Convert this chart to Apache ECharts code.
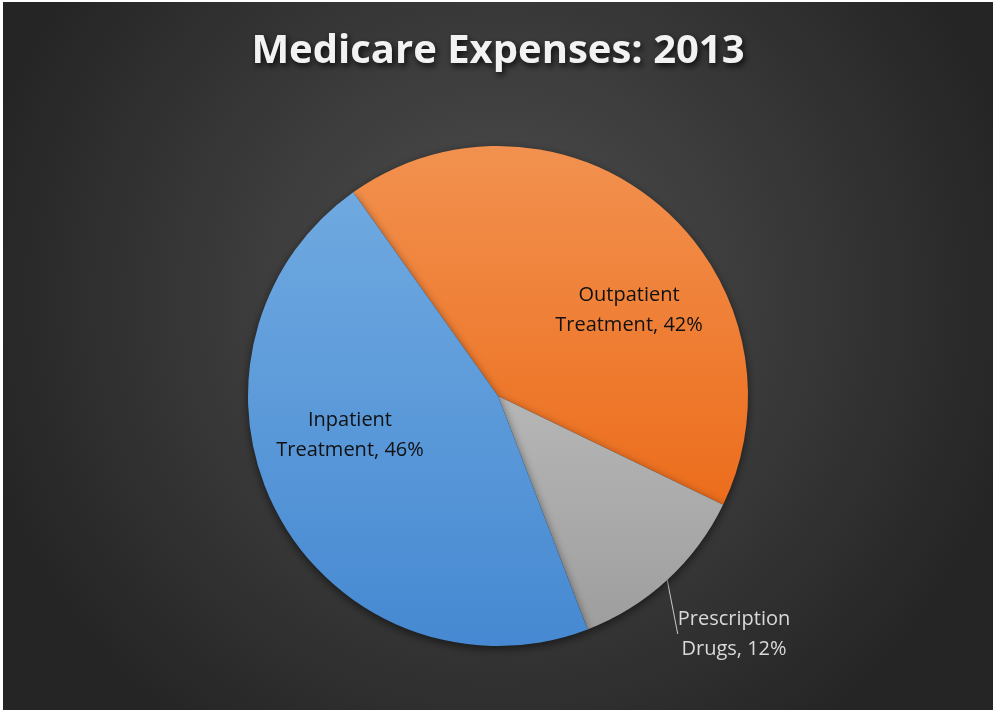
<!DOCTYPE html>
<html>
<head>
<meta charset="utf-8">
<script src="https://cdn.jsdelivr.net/npm/echarts@6/dist/echarts.min.js"></script>
<style>
  html, body { margin: 0; padding: 0; background: #ffffff; }
  #chart { position: absolute; left: 3px; top: 2px; width: 990px; height: 708px; }
</style>
</head>
<body>
<div id="chart"></div>
<script>
// data
const categories = ['Outpatient Treatment', 'Prescription Drugs', 'Inpatient Treatment'];
const shares = [42, 12, 46];

// colours (top -> bottom of each slice)
const sliceColors = [
  ['#F2914F', '#EC6D1C'],
  ['#B6B6B6', '#9E9E9E'],
  ['#6FA9E0', '#4689D2']
];

// label centres, in chart px
const labelPos = [[626, 308], [731, 632], [347, 433]];

const chart = echarts.init(document.getElementById('chart'));

const seriesData = categories.map((name, i) => {
  let item = {
    name: name,
    value: shares[i],
    itemStyle: {
      color: new echarts.graphic.LinearGradient(0, 0, 0, 1, [
        { offset: 0, color: sliceColors[i][0] },
        { offset: 1, color: sliceColors[i][1] }
      ])
    }
  };
  if (i === 1) {
    item.label = { position: 'outside', color: '#D9D9D9' };
    item.labelLine = { show: true };
  }
  return item;
});

chart.setOption({
  backgroundColor: {
    type: 'radial',
    x: 0.5, y: 0.42, r: 0.75,
    colorStops: [
      { offset: 0, color: '#505050' },
      { offset: 1, color: '#252525' }
    ]
  },
  title: {
    text: 'Medicare Expenses: 2013',
    left: 'center',
    top: 25,
    textStyle: {
      fontFamily: 'Open Sans',
      fontWeight: 'bold',
      fontSize: 40,
      color: '#F2F2F2',
      textShadowColor: 'rgba(0,0,0,0.8)',
      textShadowBlur: 6,
      textShadowOffsetX: 2,
      textShadowOffsetY: 3
    }
  },
  series: [
    {
      type: 'pie',
      center: [495, 394],
      radius: 250,
      startAngle: 125.4,
      clockwise: true,
      avoidLabelOverlap: false,
      itemStyle: {
        shadowBlur: 10,
        shadowColor: 'rgba(0,0,0,0.55)',
        shadowOffsetY: 3
      },
      emphasis: { disabled: true },
      label: {
        show: true,
        position: 'inside',
        fontFamily: 'Open Sans',
        fontSize: 20,
        lineHeight: 30,
        color: '#111111',
        formatter: (p) => p.name.replace(' ', '\n') + ', ' + p.value + '%'
      },
      labelLine: {
        show: false,
        length: 20,
        length2: 0,
        lineStyle: { color: '#C8C8C8', width: 1 }
      },
      labelLayout: (params) => {
        const p = labelPos[params.dataIndex];
        return { x: p[0], y: p[1], align: 'center', verticalAlign: 'middle' };
      },
      data: seriesData
    }
  ]
});
</script>
</body>
</html>
